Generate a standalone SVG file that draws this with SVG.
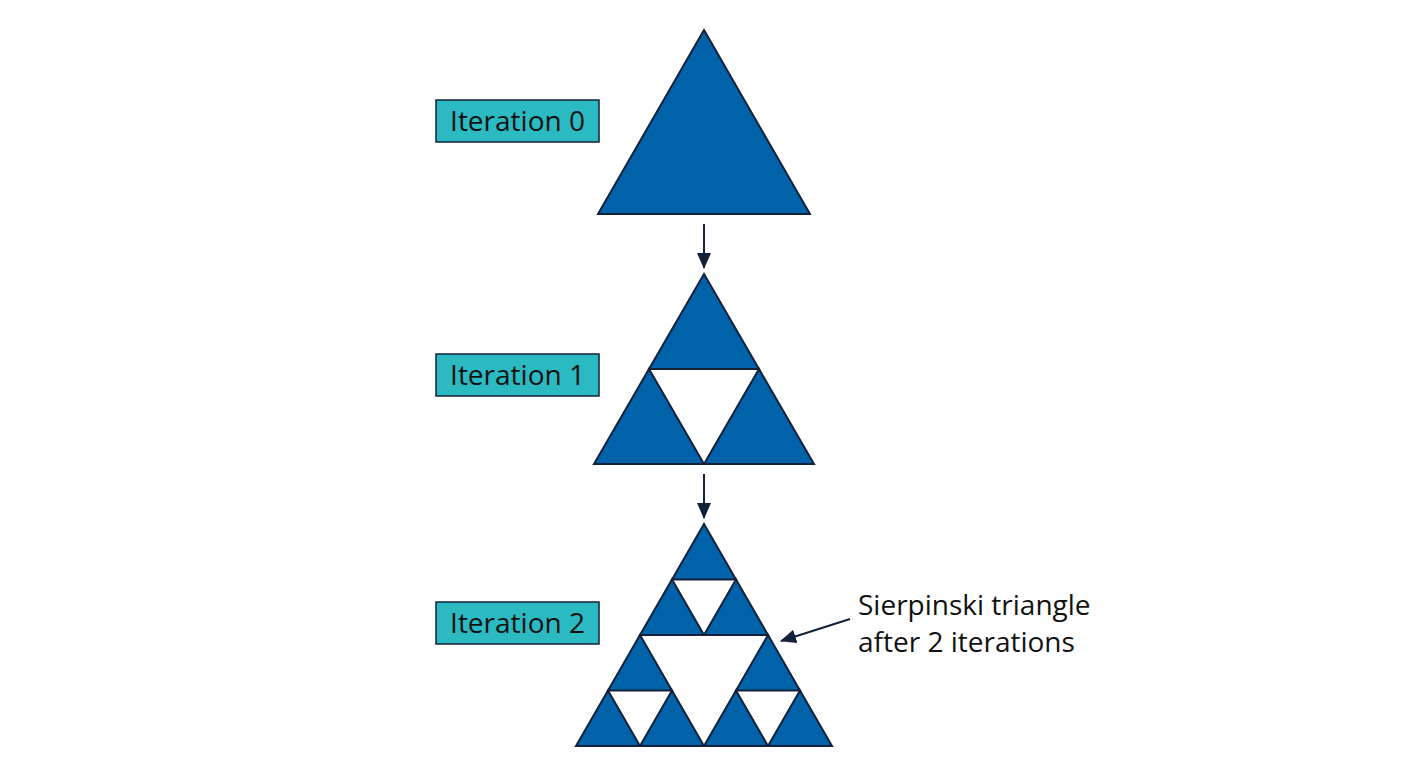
<svg xmlns="http://www.w3.org/2000/svg" width="1408" height="768" viewBox="0 0 1408 768">
<style>
.t{fill:#0062a8;stroke:#14213a;stroke-width:2;stroke-linejoin:miter}
.lb{fill:#2bb9c2;stroke:#14213a;stroke-width:1.5}
.lt{font-family:"Open Sans","Liberation Sans",sans-serif;font-size:28px;fill:#111}
.c{stroke:#14213a;stroke-width:2;fill:none}
</style>
<defs><marker id="a" markerWidth="10" markerHeight="10" refX="9" refY="5" orient="auto" markerUnits="userSpaceOnUse" viewBox="0 0 10 10"><path d="M0,0 L10,5 L0,10 z" fill="#14213a"/></marker>
<marker id="b" markerWidth="16" markerHeight="16" refX="15" refY="8" orient="auto" markerUnits="userSpaceOnUse" viewBox="0 0 16 16"><path d="M0,1 L16,8 L0,15 z" fill="#14213a"/></marker></defs>
<rect width="1408" height="768" fill="#fff"/>
<g id="it0"><polygon class="t" points="704,30 810,214 598,214"/></g>
<g id="it1">
<polygon class="t" points="704,274 759,369 649,369"/>
<polygon class="t" points="649,369 704,464 594,464"/>
<polygon class="t" points="759,369 814,464 704,464"/>
</g>
<g id="it2">
<polygon class="t" points="704,524 736,579.5 672,579.5"/>
<polygon class="t" points="672,579.5 704,635 640,635"/>
<polygon class="t" points="736,579.5 768,635 704,635"/>
<polygon class="t" points="640,635 672,690.5 608,690.5"/>
<polygon class="t" points="608,690.5 640,746 576,746"/>
<polygon class="t" points="672,690.5 704,746 640,746"/>
<polygon class="t" points="768,635 800,690.5 736,690.5"/>
<polygon class="t" points="736,690.5 768,746 704,746"/>
<polygon class="t" points="800,690.5 832,746 768,746"/>
</g>
<g id="label0"><rect class="lb" x="436" y="100" width="163" height="42"/><text class="lt" x="517.5" y="131" text-anchor="middle">Iteration 0</text></g>
<g id="label1"><rect class="lb" x="436" y="354" width="163" height="42"/><text class="lt" x="517.5" y="385" text-anchor="middle">Iteration 1</text></g>
<g id="label2"><rect class="lb" x="436" y="602" width="163" height="42"/><text class="lt" x="517.5" y="633" text-anchor="middle">Iteration 2</text></g>
<g id="note"><text class="lt" x="858" y="615">Sierpinski triangle</text><text class="lt" x="858" y="652">after 2 iterations</text></g>
<g id="connectors">
<line class="c" x1="704" y1="224" x2="704" y2="268" marker-end="url(#b)"/>
<line class="c" x1="704" y1="474" x2="704" y2="518" marker-end="url(#b)"/>
<line class="c" x1="850" y1="619" x2="781" y2="641" marker-end="url(#b)"/>
</g>
</svg>
